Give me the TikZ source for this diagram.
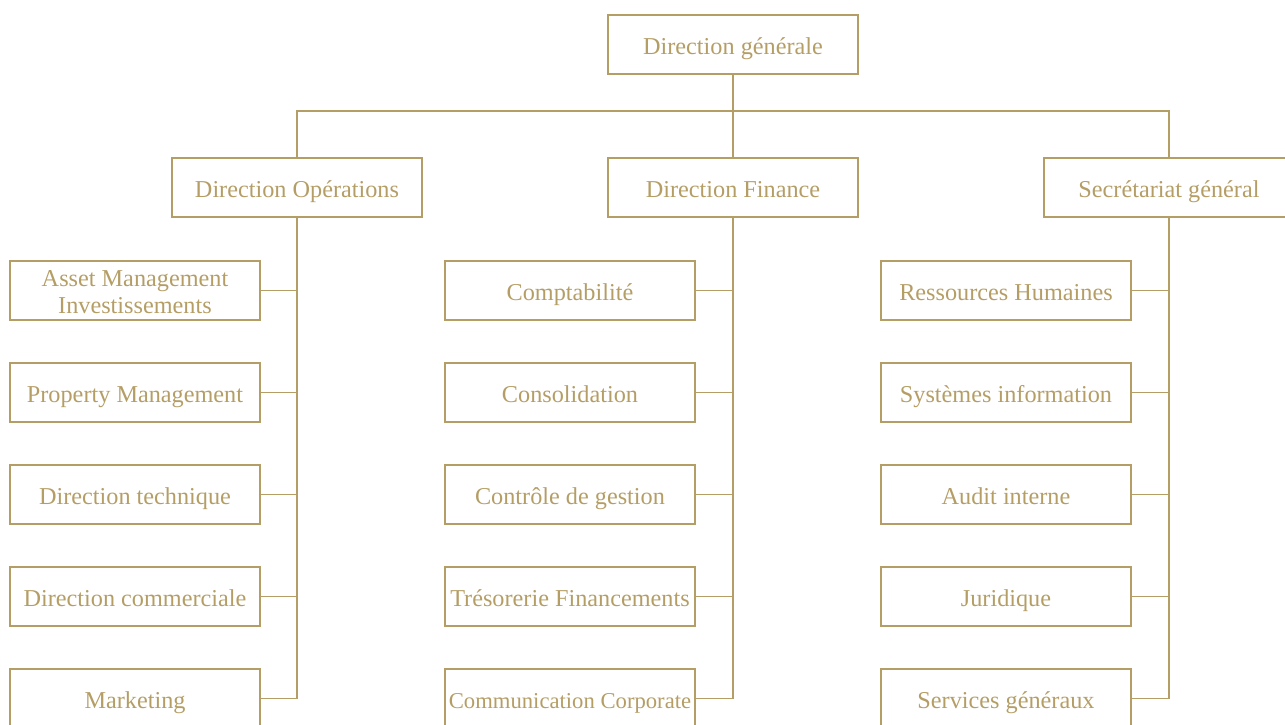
\documentclass[tikz,border=0pt]{standalone}
\usepackage{fontspec}
\setmainfont{Liberation Serif}
\definecolor{gold}{RGB}{181,158,102}
\tikzset{
  unit/.style={draw=gold,line width=0.7pt,text=gold,minimum width=5cm,minimum height=1.18cm,
    inner sep=1pt,align=center,text height=13pt,text depth=2pt,font=\fontsize{13.8}{15.5}\selectfont},
  plain/.style={},
  twoline/.style={text height=28.5pt,text depth=2pt},
  tight/.style={font=\fontsize{12.9}{15}\selectfont},
  link/.style={draw=gold,line width=0.7pt}
}
\begin{document}
\begin{tikzpicture}[x=0.02cm,y=-0.02cm]
\useasboundingbox (0,0) rectangle (1285,724);
\node[unit] (dg) at (733,44.5) {Direction générale};
\node[unit] (ops) at (297,187.5) {Direction Opérations};
\node[unit] (fin) at (733,187.5) {Direction Finance};
\node[unit] (sg) at (1169,187.5) {Secrétariat général};
\coordinate (bus) at (733,111);
\draw[link] (dg.south) -- (fin.north);
\draw[link] (ops.north) -- (ops.north |- bus) -- (sg.north |- bus) -- (sg.north);
\foreach \i/\y/\opt/\xtext in {1/290.5/twoline/{Asset Management\\Investissements},
  2/392.5/plain/Property Management,3/494.5/plain/Direction technique,
  4/596.5/plain/Direction commerciale,5/698.5/plain/Marketing}
{
    \node[unit,\opt] (ops\i) at (135,\y) {\xtext};
    \draw[link] (ops\i.east) -- (ops\i.east -| ops.south);
}
\foreach \i/\y/\opt/\xtext in {1/290.5/plain/Comptabilité,2/392.5/plain/Consolidation,
  3/494.5/plain/Contrôle de gestion,4/596.5/plain/Trésorerie Financements,
  5/698.5/tight/Communication Corporate}
{
    \node[unit,\opt] (fin\i) at (570,\y) {\xtext};
    \draw[link] (fin\i.east) -- (fin\i.east -| fin.south);
}
\foreach \i/\y/\opt/\xtext in {1/290.5/plain/Ressources Humaines,2/392.5/plain/Systèmes information,
  3/494.5/plain/Audit interne,4/596.5/plain/Juridique,5/698.5/plain/Services généraux}
{
    \node[unit,\opt] (sg\i) at (1006,\y) {\xtext};
    \draw[link] (sg\i.east) -- (sg\i.east -| sg.south);
}
\draw[link] (ops.south) -- (ops.south |- ops5.east);
\draw[link] (fin.south) -- (fin.south |- fin5.east);
\draw[link] (sg.south) -- (sg.south |- sg5.east);
\end{tikzpicture}
\end{document}
